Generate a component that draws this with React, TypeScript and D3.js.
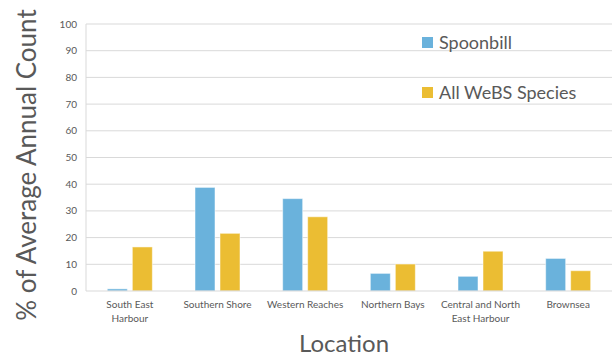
import React from "react";
import * as d3 from "d3";

const width = 616;
const height = 358;

const locations = [
  ["South East", "Harbour"],
  ["Southern Shore"],
  ["Western Reaches"],
  ["Northern Bays"],
  ["Central and North", "East Harbour"],
  ["Brownsea"],
];
const spoonbill = [0.8, 38.8, 34.6, 6.6, 5.5, 12.2];
const allWebs = [16.5, 21.6, 27.8, 10.1, 14.9, 7.6];
const yTicks = [0, 10, 20, 30, 40, 50, 60, 70, 80, 90, 100];

const series = [
  { name: "Spoonbill", values: spoonbill, color: "#6AB2DC" },
  { name: "All WeBS Species", values: allWebs, color: "#EBBD33" },
];

const margin = { top: 24, right: 4, bottom: 67, left: 86 };
const font = "'Century Gothic', 'URW Gothic', Lato, 'DejaVu Sans', sans-serif";
const textColor = "#595959";

const App: React.FC = () => {
  const x = d3
    .scaleBand<number>()
    .domain(d3.range(locations.length))
    .range([margin.left, width - margin.right]);
  const y = d3.scaleLinear().domain([0, 100]).range([height - margin.bottom, margin.top]);

  const barW = 20;
  const gap = 5;

  return (
    <svg width={width} height={height} style={{ position: "absolute", left: 0, top: 0, fontFamily: font }}>
      <rect width={width} height={height} fill="#fff" />
      {yTicks.map((t) => (
        <g key={t}>
          {t > 0 && (
            <line x1={margin.left} x2={width - margin.right} y1={y(t)} y2={y(t)} stroke="#D9D9D9" strokeWidth={1} />
          )}
          <text x={margin.left - 9} y={y(t)} dy="0.35em" textAnchor="end" fontSize={10} fill={textColor}>
            {t}
          </text>
        </g>
      ))}
      <line x1={margin.left} x2={margin.left} y1={margin.top} y2={y(0)} stroke="#D9D9D9" />

      {locations.map((lbl, i) => {
        const cx = x(i)! + x.bandwidth() / 2;
        const left = cx - (barW * 2 + gap) / 2;
        return (
          <g key={i}>
            {series.map((s, j) => (
              <rect
                key={s.name}
                x={left + j * (barW + gap)}
                y={y(s.values[i])}
                width={barW}
                height={y(0) - y(s.values[i])}
                fill={s.color}
                stroke="#ffffff"
                strokeOpacity={0.5}
                strokeWidth={1}
              />
            ))}
            {lbl.map((line, k) => (
              <text key={k} x={cx} y={308 + k * 14} textAnchor="middle" fontSize={10} fill={textColor}>
                {line}
              </text>
            ))}
          </g>
        );
      })}
      <line x1={margin.left} x2={width - margin.right} y1={y(0)} y2={y(0)} stroke="#D9D9D9" />

      {series.map((s, j) => (
        <g key={s.name}>
          <rect x={422} y={37 + j * 50} width={11} height={11} fill={s.color} />
          <text x={439} y={49 + j * 50} fontSize={18} fill={textColor}>
            {s.name}
          </text>
        </g>
      ))}

      <text
        transform={`translate(36, ${165}) rotate(-90)`}
        textAnchor="middle"
        fontSize={26}
        fill={textColor}
      >
        % of Average Annual Count
      </text>
      <text x={344} y={352} textAnchor="middle" fontSize={24} fill={textColor}>
        Location
      </text>
    </svg>
  );
};

export default App;
